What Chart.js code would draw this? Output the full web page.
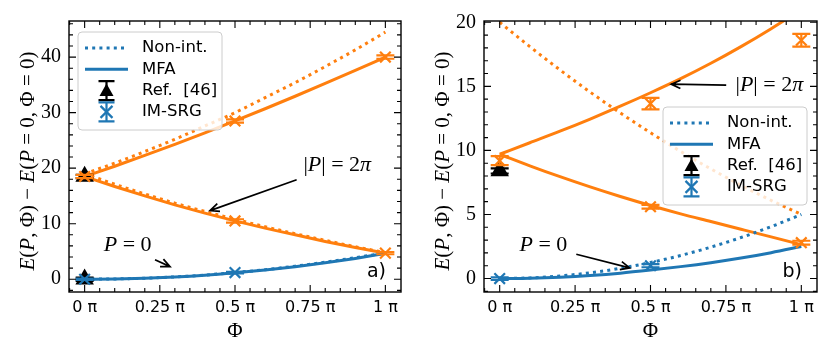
<!DOCTYPE html>
<html>
<head>
<meta charset="utf-8">
<script src="https://cdn.jsdelivr.net/npm/chart.js@4.4.1/dist/chart.umd.min.js"></script>
<style>
  body { margin: 0; background: #fff; }
  #wrap { position: relative; width: 831px; height: 356px; background: #fff; }
  canvas { position: absolute; top: 0; }
</style>
</head>
<body>
<div id="wrap">
  <canvas id="chartA" width="415" height="356" style="left:0px"></canvas>
  <canvas id="chartB" width="416" height="356" style="left:415px"></canvas>
</div>
<script>
// ---- data ----
const phi = [0, 0.1, 0.2, 0.3, 0.4, 0.5, 0.6, 0.7, 0.8, 0.9, 1.0];
const xTicks = [0, 0.25, 0.5, 0.75, 1];
const xTickLabels = ["0 \u03c0", "0.25 \u03c0", "0.5 \u03c0", "0.75 \u03c0", "1 \u03c0"];

// panel a)
const aP0Free  = [0, 0.05, 0.19, 0.42, 0.75, 1.2, 1.72, 2.35, 3.07, 3.88, 4.75];
const aP0Mfa   = [0, 0.05, 0.18, 0.4, 0.72, 1.15, 1.65, 2.25, 2.95, 3.75, 4.65];
const aUpFree  = [19.0, 20.9, 23.0, 25.2, 27.6, 30.0, 32.7, 35.4, 38.3, 41.3, 44.5];
const aUpMfa   = [18.5, 20.35, 22.3, 24.3, 26.35, 28.5, 30.7, 32.95, 35.25, 37.6, 40.0];
const aLowFree = [19.0, 17.1, 15.35, 13.7, 12.2, 10.8, 9.45, 8.2, 7.0, 5.85, 4.8];
const aLowMfa  = [18.5, 16.7, 15.0, 13.4, 11.9, 10.5, 9.2, 8.0, 6.8, 5.7, 4.7];
const aRefX = [0, 0], aRefY = [18.5, 0], aRefErr = [0.3, 0.3];
const aSrgOrX = [0, 0.5, 1, 0.5, 1], aSrgOrY = [18.5, 28.5, 40.0, 10.5, 4.7], aSrgOrErr = [0.3, 0.3, 0.3, 0.3, 0.2];
const aSrgBlX = [0, 0.5], aSrgBlY = [0, 1.2], aSrgBlErr = [0.1, 0.15];
const aYTicks = [0, 10, 20, 30, 40];

// panel b)
const bP0Free  = [0, 0.05, 0.2, 0.45, 0.8, 1.25, 1.8, 2.45, 3.2, 4.05, 5.0];
const bP0Mfa   = [0, 0.03, 0.11, 0.24, 0.42, 0.66, 0.93, 1.24, 1.6, 2.02, 2.5];
const bLowFree = [20.0, 18.1, 16.28, 14.55, 12.92, 11.38, 9.92, 8.56, 7.28, 6.1, 5.0];
const bUpMfa   = [9.7, 10.6, 11.5, 12.45, 13.45, 14.5, 15.6, 16.8, 18.1, 19.5, 21.0];
const bLowMfa  = [9.7, 8.8, 7.95, 7.15, 6.4, 5.7, 5.05, 4.45, 3.85, 3.25, 2.65];
const bRefX = [0], bRefY = [8.4], bRefErr = [0.2];
const bSrgOrX = [0, 0.5, 1, 0.5, 1], bSrgOrY = [9.2, 13.65, 18.6, 5.6, 2.8], bSrgOrErr = [0.35, 0.45, 0.5, 0.15, 0.15];
const bSrgBlX = [0, 0.5], bSrgBlY = [0, 1.0], bSrgBlErr = [0.1, 0.12];
const bYTicks = [0, 5, 10, 15, 20];

const BLUE = "#1f77b4";
const ORANGE = "#ff7f0e";
const SERIF = '"Liberation Serif", "DejaVu Serif", serif';
const SANS = '"DejaVu Sans", sans-serif';

function pts(xs, ys) { return xs.map((x, i) => ({ x: x, y: ys[i] })); }

function curve(vals, color, dotted) {
  return {
    data: pts(phi, vals), showLine: true, borderColor: color, borderWidth: 3,
    borderDash: dotted ? [3, 4.2] : [], borderCapStyle: "butt",
    pointRadius: 0, cubicInterpolationMode: "monotone", order: 10
  };
}
function markers(xs, ys, errs, color, style) {
  return {
    data: pts(xs, ys), errors: errs, showLine: false, pointStyle: style,
    pointRadius: style === "triangle" ? 8.5 : 7.5, borderWidth: 2.2,
    borderColor: color, backgroundColor: color, order: style === "triangle" ? 5 : 1
  };
}

// rich text: parts = [[text, italic]]
function richText(ctx, parts, x, y, size, align) {
  let w = 0;
  parts.forEach(p => { ctx.font = (p[1] ? "italic " : "") + size + "px " + SERIF; w += ctx.measureText(p[0]).width; });
  let cx = align === "center" ? x - w / 2 : (align === "right" ? x - w : x);
  ctx.textBaseline = "middle"; ctx.textAlign = "left";
  parts.forEach(p => {
    ctx.font = (p[1] ? "italic " : "") + size + "px " + SERIF;
    ctx.fillText(p[0], cx, y);
    cx += ctx.measureText(p[0]).width;
  });
}

function arrow(ctx, x0, y0, x1, y1) {
  const a = Math.atan2(y1 - y0, x1 - x0), L = 10, s = 0.42;
  ctx.beginPath();
  ctx.moveTo(x0, y0); ctx.lineTo(x1, y1);
  ctx.moveTo(x1 - L * Math.cos(a - s), y1 - L * Math.sin(a - s));
  ctx.lineTo(x1, y1);
  ctx.lineTo(x1 - L * Math.cos(a + s), y1 - L * Math.sin(a + s));
  ctx.stroke();
}

const errorBars = {
  id: "errorBars",
  afterDatasetDraw(chart, args) {
    const ds = chart.data.datasets[args.index];
    if (!ds.errors) return;
    const ctx = chart.ctx, y = chart.scales.y;
    ctx.save();
    ctx.strokeStyle = ds.borderColor; ctx.lineWidth = 2.2;
    args.meta.data.forEach((el, i) => {
      const v = ds.data[i].y, e = ds.errors[i];
      const top = y.getPixelForValue(v + e), bot = y.getPixelForValue(v - e);
      ctx.beginPath();
      ctx.moveTo(el.x, top); ctx.lineTo(el.x, bot);
      ctx.moveTo(el.x - 9, top); ctx.lineTo(el.x + 9, top);
      ctx.moveTo(el.x - 9, bot); ctx.lineTo(el.x + 9, bot);
      ctx.stroke();
    });
    ctx.restore();
  }
};

const decorations = {
  id: "decorations",
  afterDatasetsDraw(chart, args, o) {
    const ctx = chart.ctx, a = chart.chartArea, xs = chart.scales.x, ys = chart.scales.y;
    ctx.save();
    // frame and inward ticks
    ctx.strokeStyle = "#000"; ctx.lineWidth = 1.4;
    ctx.strokeRect(a.left, a.top, a.right - a.left, a.bottom - a.top);
    ctx.lineWidth = 1.1;
    const tick = (px, len, vertical) => {
      ctx.beginPath();
      if (vertical) {
        ctx.moveTo(px, a.bottom); ctx.lineTo(px, a.bottom - len);
        ctx.moveTo(px, a.top); ctx.lineTo(px, a.top + len);
      } else {
        ctx.moveTo(a.left, px); ctx.lineTo(a.left + len, px);
        ctx.moveTo(a.right, px); ctx.lineTo(a.right - len, px);
      }
      ctx.stroke();
    };
    for (let v = -0.05; v <= 1.05; v += 0.05) {
      const major = Math.abs(v * 4 - Math.round(v * 4)) < 1e-6;
      const px = xs.getPixelForValue(v);
      if (px >= a.left && px <= a.right) tick(px, major ? 7 : 4, true);
    }
    for (let v = Math.ceil(ys.min / o.minor) * o.minor; v <= ys.max; v += o.minor) {
      const major = Math.abs(v / o.major - Math.round(v / o.major)) < 1e-6;
      tick(ys.getPixelForValue(v), major ? 7 : 4, false);
    }
    // axis titles
    ctx.fillStyle = "#000";
    richText(ctx, [["\u03a6", false]], (a.left + a.right) / 2, 331, 21, "center");
    ctx.save();
    ctx.translate(o.yTitleX, 161); ctx.rotate(-Math.PI / 2);
    richText(ctx, [["E", true], ["(", false], ["P", true], [", \u03a6) \u2212 ", false], ["E", true], ["(", false], ["P", true], [" = 0, \u03a6 = 0)", false]], 0, 0, 21, "center");
    ctx.restore();
    // annotations
    ctx.strokeStyle = "#000"; ctx.lineWidth = 1.7;
    o.arrows.forEach(r => arrow(ctx, xs.getPixelForValue(r[0]), ys.getPixelForValue(r[1]), xs.getPixelForValue(r[2]), ys.getPixelForValue(r[3])));
    o.labels.forEach(t => {
      const px = xs.getPixelForValue(t.x), py = ys.getPixelForValue(t.y);
      if (t.kind === "P2") richText(ctx, [["|", false], ["P", true], ["| = 2", false], ["\u03c0", true]], px, py, 22, "center");
      else richText(ctx, [["P", true], [" = 0", false]], px, py, 22, "center");
    });
    ctx.font = "19px " + SANS; ctx.textAlign = "right"; ctx.textBaseline = "middle";
    ctx.fillText(o.panel, a.right - 15, a.bottom - 20);
    // legend
    const L = o.legend, W = 144, H = 98;
    ctx.beginPath();
    ctx.roundRect(L.x, L.y, W, H, 4);
    ctx.fillStyle = "rgba(255,255,255,0.8)"; ctx.fill();
    ctx.strokeStyle = "#cccccc"; ctx.lineWidth = 1; ctx.stroke();
    const names = o.legendNames, sx0 = L.x + 7, sx1 = L.x + 50, sc = (sx0 + sx1) / 2;
    names.forEach((n, i) => {
      const ry = L.y + 16 + i * 21.3;
      ctx.fillStyle = "#000"; ctx.font = "16.5px " + SANS; ctx.textAlign = "left"; ctx.textBaseline = "middle";
      ctx.fillText(n, L.x + 64, ry);
      ctx.lineWidth = 3; ctx.strokeStyle = BLUE;
      if (i === 0) { ctx.setLineDash([3, 4.2]); ctx.beginPath(); ctx.moveTo(sx0, ry); ctx.lineTo(sx1, ry); ctx.stroke(); ctx.setLineDash([]); }
      if (i === 1) { ctx.beginPath(); ctx.moveTo(sx0, ry); ctx.lineTo(sx1, ry); ctx.stroke(); }
      if (i >= 2) {
        const c = i === 2 ? "#000" : BLUE;
        ctx.strokeStyle = c; ctx.fillStyle = c; ctx.lineWidth = 2.2;
        ctx.beginPath();
        ctx.moveTo(sc, ry - 9.5); ctx.lineTo(sc, ry + 9.5);
        ctx.moveTo(sc - 8, ry - 9.5); ctx.lineTo(sc + 8, ry - 9.5);
        ctx.moveTo(sc - 8, ry + 9.5); ctx.lineTo(sc + 8, ry + 9.5);
        ctx.stroke();
        if (i === 2) {
          ctx.beginPath(); ctx.moveTo(sc, ry - 7); ctx.lineTo(sc + 7, ry + 5.5); ctx.lineTo(sc - 7, ry + 5.5); ctx.closePath(); ctx.fill();
        } else {
          ctx.beginPath(); ctx.moveTo(sc - 6, ry - 6); ctx.lineTo(sc + 6, ry + 6);
          ctx.moveTo(sc + 6, ry - 6); ctx.lineTo(sc - 6, ry + 6); ctx.stroke();
        }
      }
    });
    ctx.restore();
  }
};

function makePanel(id, datasets, yMin, yMax, yTicks, deco, padRight) {
  return new Chart(document.getElementById(id), {
    type: "scatter",
    data: { datasets: datasets },
    options: {
      responsive: false, animation: false, devicePixelRatio: 1, events: [],
      layout: { padding: { left: 0, top: 21, right: padRight, bottom: 0 } },
      plugins: { legend: { display: false }, tooltip: { enabled: false }, decorations: deco },
      scales: {
        x: {
          type: "linear", min: -0.052, max: 1.052,
          afterBuildTicks: s => { s.ticks = xTicks.map(v => ({ value: v })); },
          afterFit: s => { s.height = 64; },
          grid: { display: false, drawTicks: false }, border: { display: false },
          ticks: { autoSkip: false, maxRotation: 0, padding: 6, color: "#000", font: { family: SANS, size: 16 },
                   callback: (v) => xTickLabels[xTicks.indexOf(v)] }
        },
        y: {
          type: "linear", min: yMin, max: yMax,
          afterBuildTicks: s => { s.ticks = yTicks.map(v => ({ value: v })); },
          afterFit: s => { s.width = 69; },
          grid: { display: false, drawTicks: false }, border: { display: false },
          ticks: { padding: 8, color: "#000", font: { family: SERIF, size: 20 } }
        }
      }
    },
    plugins: [errorBars, decorations]
  });
}

const legendNames = ["Non-int.", "MFA", "Ref.  [46]", "IM-SRG"];

makePanel("chartA", [
  curve(aP0Free, BLUE, true), curve(aP0Mfa, BLUE, false),
  curve(aUpFree, ORANGE, true), curve(aUpMfa, ORANGE, false),
  curve(aLowFree, ORANGE, true), curve(aLowMfa, ORANGE, false),
  markers(aRefX, aRefY, aRefErr, "#000", "triangle"),
  markers(aSrgOrX, aSrgOrY, aSrgOrErr, ORANGE, "crossRot"),
  markers(aSrgBlX, aSrgBlY, aSrgBlErr, BLUE, "crossRot")
], -2.3, 46.5, aYTicks, {
  minor: 2, major: 10, yTitleX: 28, panel: "a)", legendNames: legendNames,
  legend: { x: 78, y: 32 },
  arrows: [[0.705, 17.9, 0.417, 12.36], [0.234, 3.5, 0.284, 2.27]],
  labels: [{ kind: "P2", x: 0.84, y: 20.6 }, { kind: "P0", x: 0.143, y: 6.2 }]
}, 14);

makePanel("chartB", [
  curve(bP0Free, BLUE, true), curve(bP0Mfa, BLUE, false),
  curve(bLowFree, ORANGE, true),
  curve(bUpMfa, ORANGE, false), curve(bLowMfa, ORANGE, false),
  markers(bRefX, bRefY, bRefErr, "#000", "triangle"),
  markers(bSrgOrX, bSrgOrY, bSrgOrErr, ORANGE, "crossRot"),
  markers(bSrgBlX, bSrgBlY, bSrgBlErr, BLUE, "crossRot")
], -1.05, 20.1, bYTicks, {
  minor: 1, major: 5, yTitleX: 28, panel: "b)", legendNames: legendNames,
  legend: { x: 248, y: 107 },
  arrows: [[0.751, 15.1, 0.569, 15.17], [0.254, 1.9, 0.431, 0.83]],
  labels: [{ kind: "P2", x: 0.894, y: 15.1 }, { kind: "P0", x: 0.145, y: 2.6 }]
}, 14);
</script>
</body>
</html>
